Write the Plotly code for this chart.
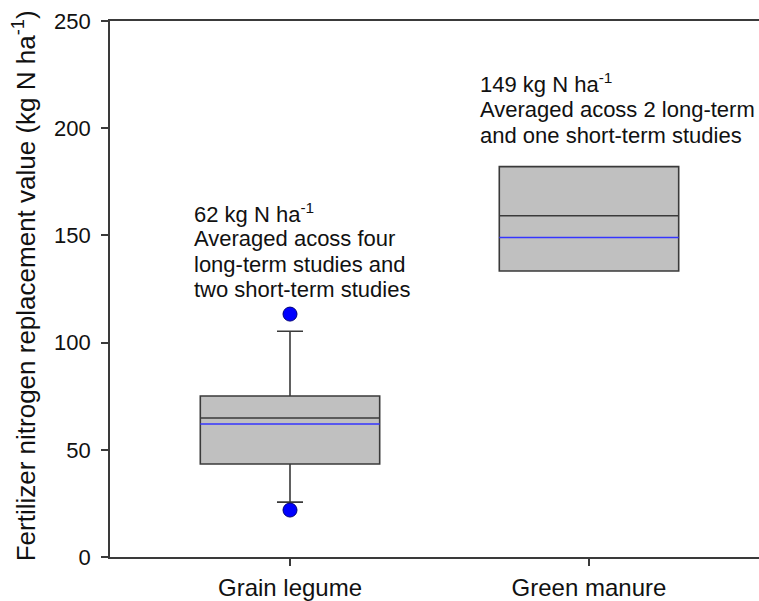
import plotly.graph_objects as go

# Fertilizer N replacement value by legume type (kg N/ha)
categories = ["Grain legume", "Green manure"]
q1 = [43.4, 133.4]
median = [64.8, 159.2]
q3 = [75.1, 182.1]
lower_whisker = [25.6, 133.4]
upper_whisker = [105.3, 182.1]
means = [62, 149]
outlier_low = [21.9, None]
outlier_high = [113.3, None]

notes = [
    ["Averaged acoss four", "long-term studies and", "two short-term studies"],
    ["Averaged acoss 2 long-term", "and one short-term studies"],
]

positions = list(range(len(categories)))
box_width = 0.6

fig = go.Figure()

for i, name in enumerate(categories):
    fig.add_trace(go.Box(
        x=[positions[i]],
        q1=[q1[i]], median=[median[i]], q3=[q3[i]],
        lowerfence=[lower_whisker[i]], upperfence=[upper_whisker[i]],
        width=box_width,
        whiskerwidth=0.145,
        fillcolor="#C0C0C0",
        line=dict(color="#3a3a3a", width=1.6),
        boxpoints=False,
        showlegend=False,
        hoverinfo="skip",
    ))
    # mean line
    fig.add_trace(go.Scatter(
        x=[positions[i] - box_width / 2, positions[i] + box_width / 2],
        y=[means[i], means[i]],
        mode="lines",
        line=dict(color="#3535ff", width=1.6),
        showlegend=False,
        hoverinfo="skip",
    ))

# outlying observations
out_x, out_y = [], []
for i in positions:
    for v in (outlier_low[i], outlier_high[i]):
        if v is not None:
            out_x.append(i)
            out_y.append(v)
fig.add_trace(go.Scatter(
    x=out_x, y=out_y, mode="markers",
    marker=dict(color="#0000ff", size=14, line=dict(color="#00007a", width=1)),
    showlegend=False, hoverinfo="skip",
))

family = "Liberation Sans, Arial, sans-serif"
text_font = dict(family=family, size=22, color="#111111")

# note blocks: left edge (x, data units), first-line centre (y) and line step
note_pos = [(-0.328, 160.3, 11.9), (0.629, 220.9, 12.1)]
for i, (nx, ny, step) in enumerate(note_pos):
    lines = [f"{means[i]} kg N ha<sup>-1</sup>"] + notes[i]
    for k, line in enumerate(lines):
        fig.add_annotation(
            x=nx, y=ny - k * step, xref="x", yref="y",
            xanchor="left", yanchor="middle", align="left", showarrow=False,
            text=line, font=text_font,
        )

fig.add_annotation(
    x=-0.1325, y=0.505, xref="paper", yref="paper",
    xanchor="center", yanchor="middle", showarrow=False, textangle=-90,
    text="Fertilizer nitrogen replacement value (kg N ha<sup>-1</sup>)",
    font=dict(family=family, size=26, color="#111111"),
)

axis_color = "#3a3a3a"
fig.update_layout(
    width=759, height=601,
    margin=dict(l=110, r=0, t=21, b=44, autoexpand=False),
    paper_bgcolor="white", plot_bgcolor="white",
    font=dict(family=family, color="#111111"),
    xaxis=dict(
        range=[-0.602, 1.5686], automargin=False,
        tickmode="array", tickvals=positions, ticktext=categories,
        ticks="outside", ticklen=7, tickwidth=1.6, tickcolor=axis_color,
        showline=True, linecolor=axis_color, linewidth=1.6, mirror=True,
        showgrid=False, zeroline=False,
        tickfont=dict(size=24, color="#111111"),
        ticklabelstandoff=1,
    ),
    yaxis=dict(
        range=[0, 250], dtick=50, automargin=False,
        ticks="outside", ticklen=7, tickwidth=1.6, tickcolor=axis_color,
        showline=True, linecolor=axis_color, linewidth=1.6,
        showgrid=False, zeroline=False,
        tickfont=dict(size=22, color="#111111"),
        ticklabelstandoff=6,
    ),
)

fig.write_html("out.html")
